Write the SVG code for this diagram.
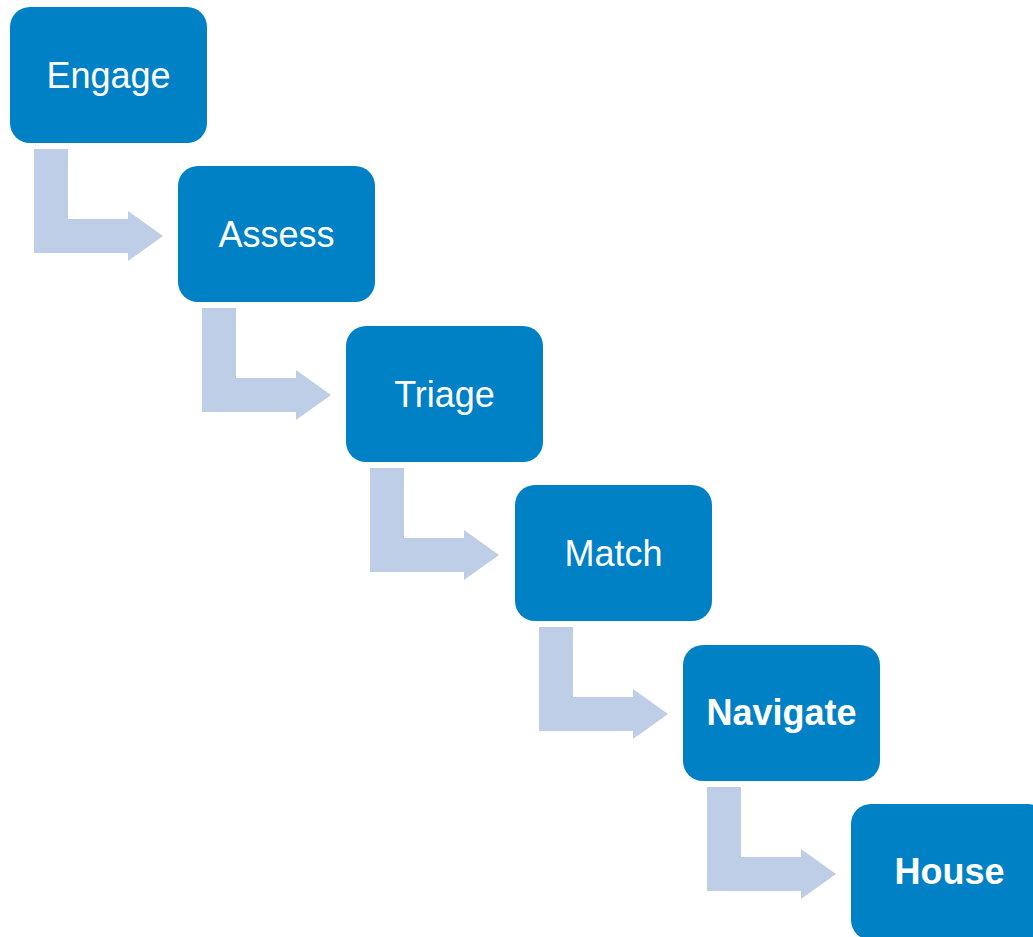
<svg xmlns="http://www.w3.org/2000/svg" width="1033" height="937" viewBox="0 0 1033 937">
<defs>
<style>
.box{fill:#0081C6;}
.lbl{fill:#FFFFFF;font-family:"Liberation Sans",Arial,sans-serif;font-size:36px;text-anchor:middle;}
.b{font-weight:bold;}
.arr{fill:#BECEE6;}
</style>
<polygon id="bent" points="24,142 58,142 58,212 118,212 118,204 153,229 118,254 118,246 24,246"/>
</defs>
<rect width="1033" height="937" fill="#FFFFFF"/>
<g id="connectors">
<use href="#bent" class="arr" transform="translate(10,7)"/>
<use href="#bent" class="arr" transform="translate(178,166)"/>
<use href="#bent" class="arr" transform="translate(346,326)"/>
<use href="#bent" class="arr" transform="translate(515,485)"/>
<use href="#bent" class="arr" transform="translate(683,645)"/>
</g>
<g id="engage" transform="translate(10,7)">
<rect class="box" width="197" height="136" rx="20"/>
<text class="lbl" x="98.5" y="81">Engage</text>
</g>
<g id="assess" transform="translate(178,166)">
<rect class="box" width="197" height="136" rx="20"/>
<text class="lbl" x="98.5" y="81">Assess</text>
</g>
<g id="triage" transform="translate(346,326)">
<rect class="box" width="197" height="136" rx="20"/>
<text class="lbl" x="98.5" y="81">Triage</text>
</g>
<g id="match" transform="translate(515,485)">
<rect class="box" width="197" height="136" rx="20"/>
<text class="lbl" x="98.5" y="81">Match</text>
</g>
<g id="navigate" transform="translate(683,645)">
<rect class="box" width="197" height="136" rx="20"/>
<text class="lbl b" x="98.5" y="80">Navigate</text>
</g>
<g id="house" transform="translate(851,804)">
<rect class="box" width="197" height="136" rx="20"/>
<text class="lbl b" x="98.5" y="80">House</text>
</g>
</svg>
